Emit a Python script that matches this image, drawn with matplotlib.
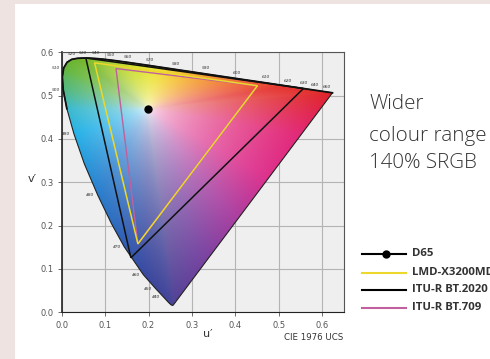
import numpy as np
import matplotlib
matplotlib.use("Agg")
import matplotlib.pyplot as plt
from matplotlib.patches import Polygon, Rectangle
from matplotlib.lines import Line2D

# spectral locus, CIE 1976 u'v' (nm)
wavelengths = [380, 400, 420, 430, 440, 450, 460, 470, 475, 480, 485, 490, 495,
               500, 505, 510, 515, 520, 525, 530, 535, 540, 545, 550, 555, 560,
               565, 570, 575, 580, 585, 590, 595, 600, 605, 610, 620, 630, 640,
               650, 660, 680, 700]
locus_u = [.2568, .2557, .2522, .2461, .2347, .2161, .1877, .1441, .1147, .0828,
           .0521, .0282, .0119, .0035, .0014, .0046, .0123, .0231, .0360, .0501,
           .0643, .0792, .0953, .1127, .1319, .1531, .1766, .2026, .2312, .2623,
           .2960, .3315, .3681, .4035, .4379, .4692, .5203, .5565, .5830, .6005,
           .6109, .6199, .6234]
locus_v = [.0166, .0159, .0169, .0226, .0350, .0549, .0871, .1510, .2044, .2708,
           .3427, .4117, .4698, .5131, .5431, .5638, .5770, .5837, .5861, .5868,
           .5865, .5856, .5841, .5821, .5796, .5766, .5732, .5694, .5651, .5604,
           .5554, .5501, .5446, .5393, .5342, .5296, .5219, .5165, .5125, .5099,
           .5084, .5070, .5065]

top_labels = [520, 530, 540, 550, 560, 570, 580, 590, 600, 610, 620, 630, 640, 660]
left_labels = [510, 500, 490, 480, 470, 460, 450, 440]

# colour stops of the printed diagram along the locus (nm -> RGB)
stop_nm = [380, 450, 465, 480, 490, 495, 500, 510, 525, 545, 560, 572, 582, 592, 605, 620, 700]
stop_rgb = [(80, 66, 150), (62, 70, 155), (52, 76, 165), (40, 125, 205), (38, 178, 232),
            (60, 186, 205), (82, 184, 130), (100, 182, 58), (112, 180, 40), (160, 204, 52),
            (205, 222, 44), (238, 230, 48), (246, 196, 44), (244, 150, 48), (238, 95, 52),
            (228, 48, 44), (224, 34, 40)]
# along the purple line, red end -> violet end
purple_rgb = [(224, 34, 40), (226, 40, 120), (222, 48, 140), (170, 62, 160), (120, 66, 160),
              (80, 66, 150)]
white_rgb = (252, 250, 252)

# gamuts (u', v') : green, red, blue
bt2020_u = [0.0556, 0.5566, 0.1593]
bt2020_v = [0.5868, 0.5165, 0.1258]
lmd_u = [0.0757, 0.4507, 0.1754]
lmd_v = [0.5757, 0.5229, 0.1579]
bt709_u = [0.1250, 0.4507, 0.1754]
bt709_v = [0.5625, 0.5229, 0.1579]
d65_u, d65_v = 0.1978, 0.4683

W, H = 490, 359
fig = plt.figure(figsize=(W / 100, H / 100), dpi=100, facecolor="#eee3e1")
fig.patches.append(Rectangle((15 / W, 0), 1, 1 - 4 / H, transform=fig.transFigure,
                             facecolor="white", edgecolor="none", zorder=-10))

ax = fig.add_axes([61.7 / W, 1 - 312.3 / H, 282.3 / W, 260 / H])
ax.set_facecolor("#efefef")
ax.set_xlim(0, 0.65)
ax.set_ylim(0, 0.6)
ticks = [0.0, 0.1, 0.2, 0.3, 0.4, 0.5, 0.6]
ax.set_xticks(ticks)
ax.set_yticks(ticks)
ax.set_xticklabels([f"{t:.1f}" for t in ticks])
ax.set_yticklabels([f"{t:.1f}" for t in ticks])
ax.tick_params(labelsize=6, colors="#555555", length=3, width=0.6, pad=3)
ax.grid(True, color="#b4b4b4", linewidth=0.8)
ax.set_axisbelow(True)
for s in ax.spines.values():
    s.set_color("#555555")
    s.set_linewidth(0.8)
ax.spines["left"].set_color("#222222")
ax.spines["bottom"].set_color("#222222")
ax.spines["left"].set_linewidth(1.2)

# colour fill: blend from white at D65 out to the boundary colours
lu, lv = np.array(locus_u), np.array(locus_v)
edge_col = np.column_stack([np.interp(wavelengths, stop_nm, [c[k] for c in stop_rgb])
                            for k in range(3)])
t = np.linspace(0, 1, 60)
pt = np.linspace(0, 1, len(purple_rgb))
pu = lu[-1] + (lu[0] - lu[-1]) * t
pv = lv[-1] + (lv[0] - lv[-1]) * t
pcol = np.column_stack([np.interp(t, pt, [c[k] for c in purple_rgb]) for k in range(3)])
bu = np.concatenate([lu, pu])
bv = np.concatenate([lv, pv])
bcol = np.vstack([edge_col, pcol]) / 255
ang_b = np.arctan2(bv - d65_v, bu - d65_u)
dist_b = np.hypot(bu - d65_u, bv - d65_v)
order = np.argsort(ang_b)

uu, vv = np.meshgrid(np.linspace(0, 0.65, 520), np.linspace(0, 0.6, 480))
ang = np.arctan2(vv - d65_v, uu - d65_u)
rmax = np.interp(ang, ang_b[order], dist_b[order], period=2 * np.pi)
r = np.clip(np.hypot(uu - d65_u, vv - d65_v) / rmax, 0, 1) ** 0.5
white = np.array(white_rgb) / 255
rgb = np.dstack([white[k] + (np.interp(ang, ang_b[order], bcol[order, k], period=2 * np.pi)
                             - white[k]) * r for k in range(3)])

locus = Polygon(np.column_stack([locus_u, locus_v]), closed=True,
                facecolor="none", edgecolor="#222222", linewidth=0.8, zorder=3)
ax.add_patch(locus)
img = ax.imshow(rgb, extent=(0, 0.65, 0, 0.6), origin="lower", aspect="auto",
                interpolation="bilinear", zorder=2)
img.set_clip_path(locus)
ax.plot(locus_u[12:], locus_v[12:], color="#111111", linewidth=1.3, zorder=3)

# wavelength labels
for wl in top_labels:
    i = wavelengths.index(wl)
    ax.annotate(str(wl), (locus_u[i], locus_v[i]), xytext=(0, 2.5),
                textcoords="offset points", fontsize=3.2, ha="center",
                va="bottom", color="#333333", style="italic")
for wl in left_labels:
    i = wavelengths.index(wl)
    ax.annotate(str(wl), (locus_u[i], locus_v[i]), xytext=(-2.5, 0),
                textcoords="offset points", fontsize=3.2, ha="right",
                va="center", color="#333333", style="italic")

# gamut triangles
ax.fill(bt2020_u, bt2020_v, facecolor="none", edgecolor="#111111", linewidth=1.1, zorder=4)
ax.fill(bt709_u, bt709_v, facecolor="none", edgecolor="#c0609e", linewidth=1.0, zorder=4)
ax.fill(lmd_u, lmd_v, facecolor="none", edgecolor="#ecd82a", linewidth=1.1, zorder=5)
ax.plot([d65_u], [d65_v], "o", color="black", markersize=5, zorder=6)

fig.text(32 / W, 1 - 179 / H, "v′", fontsize=8, color="#333333", ha="center", va="center")
fig.text(207.7 / W, 1 - 334 / H, "u′", fontsize=8, color="#333333", ha="center", va="center")
fig.text(343 / W, 1 - 338 / H, "CIE 1976 UCS", fontsize=6.2, color="#333333",
         ha="right", va="center")

# headline
for txt, yy in [("Wider", 104), ("colour range", 136), ("140% SRGB", 163)]:
    fig.text(369 / W, 1 - yy / H, txt, fontsize=14.8, color="#333333",
             family="Open Sans", weight="light", ha="left", va="center")

# legend
legend_items = [("D65", "black", True, 254), ("LMD-X3200MD", "#ecd82a", False, 272.7),
                ("ITU-R BT.2020", "black", False, 290), ("ITU-R BT.709", "#c0609e", False, 308)]
for label, col, dot, yy in legend_items:
    yf = 1 - yy / H
    fig.add_artist(Line2D([362 / W, 406 / W], [yf, yf], color=col, linewidth=1.5,
                          transform=fig.transFigure))
    if dot:
        fig.add_artist(Line2D([386 / W], [yf], marker="o", color="black", markersize=5,
                              transform=fig.transFigure))
    fig.text(412 / W, yf, label, fontsize=8.2, weight="bold", family="Open Sans",
             color="#333333", ha="left", va="center")

fig.savefig("out.png", dpi=100, facecolor=fig.get_facecolor())
